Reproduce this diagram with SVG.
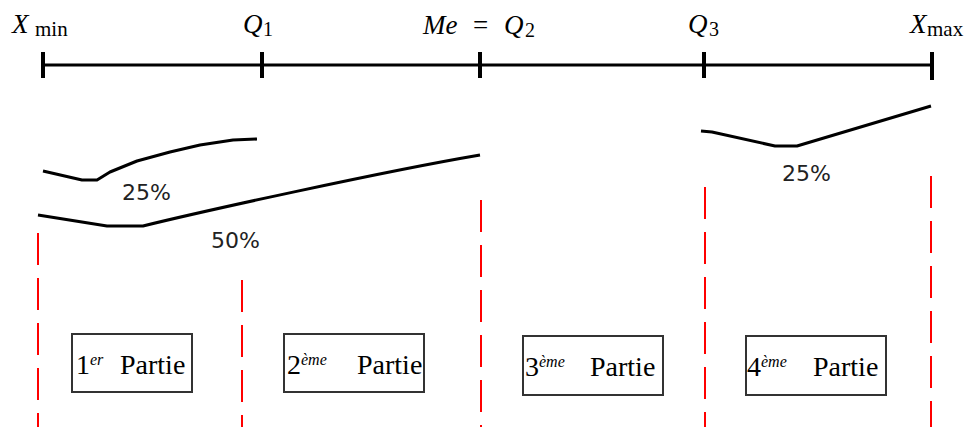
<svg xmlns="http://www.w3.org/2000/svg" width="968" height="427" viewBox="0 0 968 427">
<rect width="968" height="427" fill="#fff"/>
<g id="axis" stroke="#000">
<line stroke-width="3" x1="42" y1="65" x2="932" y2="65"/>
<g stroke-width="4">
<line x1="43" y1="52" x2="43" y2="78"/>
<line x1="262" y1="52" x2="262" y2="78"/>
<line x1="480" y1="52" x2="480" y2="78"/>
<line x1="704" y1="52" x2="704" y2="78"/>
<line x1="932" y1="52" x2="932" y2="80"/>
</g>
</g>
<g id="axis-labels" fill="#000">
<text font-family="Liberation Serif" font-style="italic" x="12" y="33" font-size="27">X</text>
<text font-family="Liberation Serif" x="35" y="36" font-size="21">min</text>
<text font-family="Liberation Serif" font-style="italic" x="243" y="33" font-size="27">Q</text>
<text font-family="Liberation Serif" x="263" y="36" font-size="20">1</text>
<text font-family="Liberation Serif" font-style="italic" x="423" y="34" font-size="27">Me</text>
<text font-family="Liberation Serif" x="473" y="34" font-size="27">=</text>
<text font-family="Liberation Serif" font-style="italic" x="504" y="34" font-size="27">Q</text>
<text font-family="Liberation Serif" x="525" y="37" font-size="20">2</text>
<text font-family="Liberation Serif" font-style="italic" x="688" y="33" font-size="27">Q</text>
<text font-family="Liberation Serif" x="709" y="36" font-size="20">3</text>
<text font-family="Liberation Serif" font-style="italic" x="910" y="33" font-size="27">X</text>
<text font-family="Liberation Serif" x="927" y="36" font-size="21">max</text>
</g>
<g id="connectors">
<g fill="none" stroke="#000" stroke-width="3" stroke-linejoin="round">
<polyline points="43,171 82,180 97,180 110,172 137,161 170,152 200,145 233,140 257,139"/>
<path d="M38,215 L107,226 L143,226 C200,212 380,172 480,155"/>
<polyline points="701,131 712,132 775,146 797,146 931,106"/>
</g>
<g stroke="#ff0000" stroke-width="2" stroke-dasharray="32 13">
<line x1="38" y1="233" x2="38" y2="427"/>
<line x1="242" y1="280" x2="242" y2="427"/>
<line x1="481" y1="200" x2="481" y2="427"/>
<line x1="705" y1="187" x2="705" y2="427"/>
<line x1="931" y1="176" x2="931" y2="427"/>
</g>
</g>
<g id="pct-labels" fill="#222">
<text font-family="DejaVu Sans" font-size="22" x="122" y="200">25%</text>
<text font-family="DejaVu Sans" font-size="22" x="211" y="248">50%</text>
<text font-family="DejaVu Sans" font-size="22" x="782" y="181">25%</text>
</g>
<g id="part1">
<rect fill="#fff" stroke="#333" stroke-width="2" x="72" y="334" width="120" height="58"/>
<text font-family="Liberation Serif" font-size="28" fill="#000" x="76" y="374">1<tspan font-style="italic" font-size="16" dy="-9">er</tspan><tspan dy="9" x="120">Partie</tspan></text>
</g>
<g id="part2">
<rect fill="#fff" stroke="#333" stroke-width="2" x="284" y="334" width="140" height="58"/>
<text font-family="Liberation Serif" font-size="28" fill="#000" x="287" y="374">2<tspan font-style="italic" font-size="16" dy="-9">&#232;me</tspan><tspan dy="9" x="357">Partie</tspan></text>
</g>
<g id="part3">
<rect fill="#fff" stroke="#333" stroke-width="2" x="523" y="336" width="140" height="59"/>
<text font-family="Liberation Serif" font-size="28" fill="#000" x="525" y="376">3<tspan font-style="italic" font-size="16" dy="-9">&#232;me</tspan><tspan dy="9" x="590">Partie</tspan></text>
</g>
<g id="part4">
<rect fill="#fff" stroke="#333" stroke-width="2" x="746" y="336" width="140" height="59"/>
<text font-family="Liberation Serif" font-size="28" fill="#000" x="747" y="376">4<tspan font-style="italic" font-size="16" dy="-9">&#232;me</tspan><tspan dy="9" x="813">Partie</tspan></text>
</g>
</svg>
